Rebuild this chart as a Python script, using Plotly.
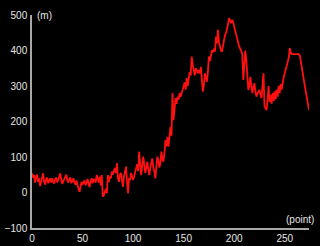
import plotly.graph_objects as go

elevation = [
    54, 42, 50, 28, 45, 50, 30, 40, 18, 32,
    45, 54, 30, 22, 38, 42, 26, 35, 40, 28,
    40, 30, 25, 38, 42, 28, 36, 45, 54, 35,
    24, 32, 40, 46, 50, 34, 28, 38, 42, 26,
    36, 40, 28, 22, 34, 18, 10, 2, 20, 30,
    22, 28, 34, 20, 30, 38, 24, 15, 32, 40,
    26, 38, 35, 28, 50, 40, 28, 45, 20, 49,
    -12, -8, 5, 10, -2, 49, 30, 45, 40, 59,
    50, 60, 69, 55, 83, 40, 30, 50, 55, 35,
    16, 45, 60, 73, 30, -2, 40, 35, 55, 45,
    35, 45, 55, 63, 80, 60, 115, 80, 49, 75,
    101, 80, 55, 70, 87, 65, 49, 70, 80, 96,
    70, 60, 40, 75, 101, 90, 70, 82, 115, 95,
    87, 110, 148, 130, 157, 129, 150, 185, 160, 280,
    204, 230, 266, 250, 270, 262, 280, 270, 285, 289,
    300, 310, 290, 322, 300, 315, 340, 330, 383, 360,
    345, 330, 350, 340, 336, 345, 335, 354, 320, 284,
    300, 336, 325, 312, 340, 383, 370, 390, 401, 395,
    405, 397, 439, 420, 458, 421, 410, 400, 397, 420,
    430, 444, 450, 462, 475, 491, 485, 477, 486, 480,
    467, 455, 445, 434, 420, 411, 405, 397, 390, 317,
    360, 400, 373, 330, 289, 300, 326, 300, 280, 295,
    308, 285, 270, 280, 285, 289, 275, 266, 300, 336,
    243, 238, 232, 260, 300, 255, 275, 250, 280, 258,
    285, 262, 290, 270, 300, 280, 305, 290, 315, 326,
    335, 345, 359, 370, 380, 407, 393, 390, 390, 390,
    390, 390, 390, 390, 390, 385, 370, 354, 335, 315,
    298, 280, 260, 245, 232,
]
points = list(range(len(elevation)))

x_ticks = [0, 50, 100, 150, 200, 250]
y_ticks = [-100, 0, 100, 200, 300, 400, 500]
x_unit = "(point)"
y_unit = "(m)"

font = dict(family="Liberation Sans, Arial, sans-serif", size=10, color="#e6e6e6")

fig = go.Figure()
fig.add_trace(go.Scatter(
    x=points, y=elevation, mode="lines",
    line=dict(color="#ff1010", width=1.8),
    hoverinfo="skip",
))

fig.update_layout(
    width=320, height=246,
    margin=dict(l=32, r=11, t=15, b=18),
    paper_bgcolor="#000000", plot_bgcolor="#000000",
    showlegend=False,
    font=font,
    xaxis=dict(range=[0, 274], tickvals=x_ticks, showgrid=False, zeroline=False,
               showline=True, linecolor="#a8a8a8", linewidth=1.5, automargin=False,
               ticks="", tickfont=font, ticklabelstandoff=0),
    yaxis=dict(range=[-100, 500], tickvals=y_ticks, showgrid=False, zeroline=False,
               showline=True, linecolor="#a8a8a8", linewidth=1.5, automargin=False,
               ticks="", tickfont=font, ticklabelstandoff=1),
    annotations=[
        dict(text=y_unit, xref="paper", yref="paper", x=0.012, y=1.0,
             xanchor="left", yanchor="middle", showarrow=False, font=font),
        dict(text=x_unit, xref="paper", yref="paper", x=1.025, y=0.0,
             xanchor="right", yanchor="bottom", yshift=1, showarrow=False, font=font),
    ],
)

fig.write_html("out.html")
